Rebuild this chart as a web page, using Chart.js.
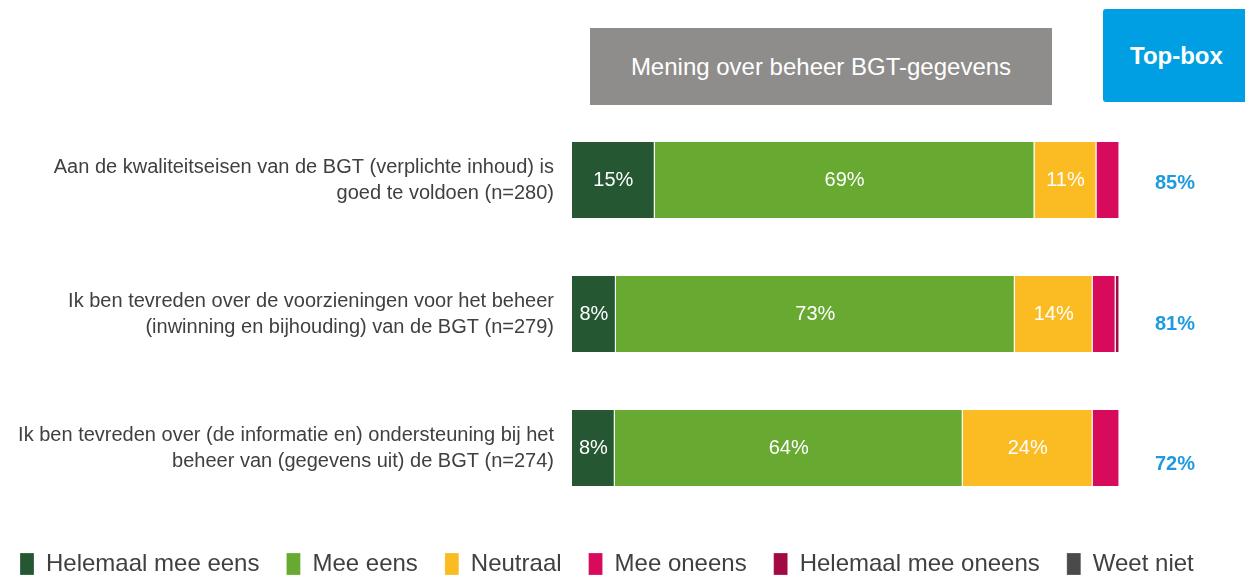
<!DOCTYPE html>
<html>
<head>
<meta charset="utf-8">
<script src="https://cdn.jsdelivr.net/npm/chart.js@4.4.1/dist/chart.umd.min.js"></script>
<style>
  body { margin: 0; background: #fff; font-family: "Liberation Sans", Arial, sans-serif; }
  #wrap { position: relative; width: 1245px; height: 576px; overflow: hidden; }
  .head { position: absolute; color: #fff; display: flex; align-items: center; justify-content: center; }
  #headGray { left: 590px; top: 28px; width: 462px; height: 77px; background: #8f8d8b; font-size: 24px; }
  #headBlue { left: 1103px; top: 9px; width: 150px; height: 93px; background: #009fe3; font-size: 24px; font-weight: bold; border-radius: 3px; justify-content: flex-start; padding-left: 27px; box-sizing: border-box; align-items: flex-start; padding-top: 33px; }
</style>
</head>
<body>
<div id="wrap">
  <canvas id="bgtChart" width="1245" height="576"></canvas>
  <div class="head" id="headGray">Mening over beheer BGT-gegevens</div>
  <div class="head" id="headBlue">Top-box</div>
</div>
<script>
const categories = [
    ['Aan de kwaliteitseisen van de BGT (verplichte inhoud) is', 'goed te voldoen (n=280)'],
    ['Ik ben tevreden over de voorzieningen voor het beheer', '(inwinning en bijhouding) van de BGT (n=279)'],
    ['Ik ben tevreden over (de informatie en) ondersteuning bij het', 'beheer van (gegevens uit) de BGT (n=274)']
];

const seriesNames = ['Helemaal mee eens', 'Mee eens', 'Neutraal', 'Mee oneens', 'Helemaal mee oneens', 'Weet niet'];
const helemaalEens = [15.1, 8.0, 7.8];
const meeEens = [69.3, 72.8, 63.5];
const neutraal = [11.3, 14.2, 23.7];
const meeOneens = [4.2, 4.2, 4.9];
const helemaalOneens = [0, 0.7, 0];
const weetNiet = [0, 0, 0];
const topBox = ['85%', '81%', '72%'];

const colors = ['#245732', '#68a932', '#fbbb22', '#d70a5c', '#a20a44', '#4a4a4a'];
const seriesData = [helemaalEens, meeEens, neutraal, meeOneens, helemaalOneens, weetNiet];

const ctx = document.getElementById('bgtChart').getContext('2d');
const fontFamily = '"Liberation Sans", Arial, sans-serif';

// draw the % inside segments and the top-box column
const labelPlugin = {
    id: 'segmentLabels',
    afterDatasetsDraw(chart){
        const c = chart.ctx;
        c.save();
        c.font = '20px ' + fontFamily;
        c.fillStyle = '#fff';
        c.textAlign = 'center';
        c.textBaseline = 'middle';
        chart.data.datasets.forEach((ds, di) => {
            const meta = chart.getDatasetMeta(di);
            meta.data.forEach((bar, i) => {
                const v = ds.data[i];
                if(v < 6) return;
                c.fillText(Math.round(v) + '%', (bar.base + bar.x) / 2, bar.y);
            });
        });
        // top-box values, sit a bit lower than the bars in the original
        const yScale = chart.scales.y;
        const shift = [3, 10, 16];
        c.font = 'bold 20px ' + fontFamily;
        c.fillStyle = '#1e9be0';
        topBox.forEach((t, i) => {
            c.fillText(t, 1175, yScale.getPixelForValue(i) + shift[i]);
        });
        c.restore();
    }
};

const chart = new Chart(ctx, {
    type: 'bar',
    data: {
        labels: categories,
        datasets: seriesData.map((d, i) => ({
            label: seriesNames[i],
            data: d,
            backgroundColor: colors[i],
            borderColor: '#ffffff',
            borderWidth: {right: 1, left: 0, top: 0, bottom: 0},
            borderSkipped: false,
            barPercentage: 0.9,
            categoryPercentage: 0.63
        }))
    },
    options: {
        indexAxis: 'y',
        responsive: false,
        animation: false,
        layout: { padding: { top: 113, right: 0, left: -7, bottom: -10 } },
        scales: {
            x: {
                stacked: true,
                min: 0,
                max: 100,
                grid: { display: false },
                border: { display: false },
                ticks: { display: false },
                afterFit(scale){ scale.height = 10; }
            },
            y: {
                stacked: true,
                grid: { display: false },
                border: { display: false },
                ticks: {
                    color: '#404040',
                    padding: 10,
                    font: { size: 20, family: fontFamily, lineHeight: 1.3 }
                },
                afterFit(scale){ scale.width = 579; }
            },
            yRight: {
                type: 'category',
                position: 'right',
                grid: { display: false },
                border: { display: false },
                ticks: { display: false },
                afterFit(scale){ scale.width = 125; }
            }
        },
        plugins: {
            legend: {
                position: 'bottom',
                align: 'start',
                labels: {
                    boxWidth: 14,
                    boxHeight: 22,
                    padding: 27,
                    color: '#404040',
                    font: { size: 24, family: fontFamily }
                }
            },
            tooltip: { enabled: false }
        }
    },
    plugins: [labelPlugin]
});
</script>
</body>
</html>
